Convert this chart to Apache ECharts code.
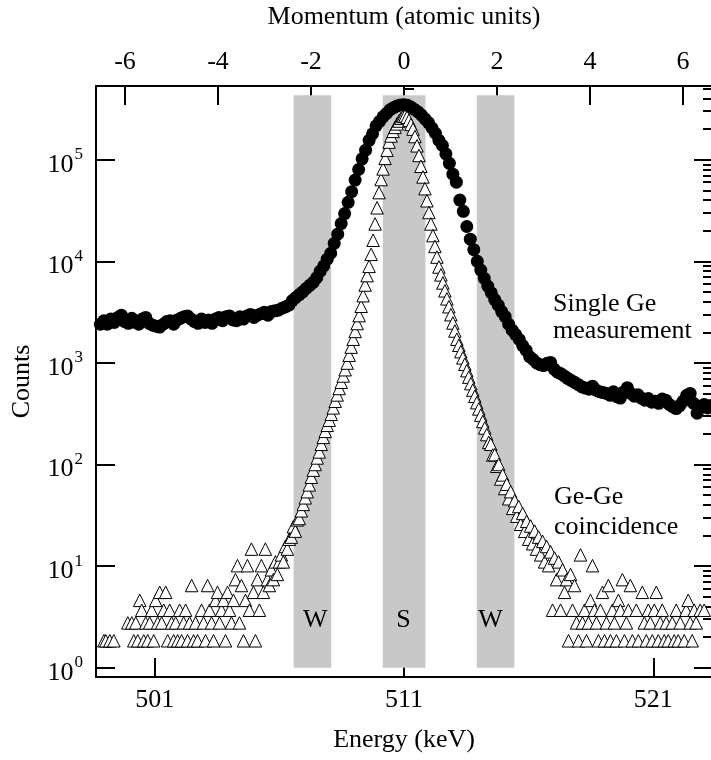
<!DOCTYPE html>
<html><head><meta charset="utf-8">
<script src="https://cdn.jsdelivr.net/npm/echarts@6/dist/echarts.min.js"></script>
<style>html,body{margin:0;padding:0;background:#fff}#c{width:711px;height:760px}</style>
</head><body><div id="c"></div>
<script>
// ---- tick labels / axes ----
const energyTicks = [501, 511, 521];
const momentumTicks = [-6, -4, -2, 0, 2, 4, 6];
const countDecades = [1, 10, 100, 1000, 10000, 100000];
const countMinor = [2,3,4,5,6,7,8,9, 20,30,40,50,60,70,80,90, 200,300,400,500,600,700,800,900,
  2000,3000,4000,5000,6000,7000,8000,9000, 20000,30000,40000,50000,60000,70000,80000,90000,
  200000,300000,400000,500000];
const energyRange = [498.645, 523.355];
const momentumRange = [-6.624, 6.624];
const countRange = [0.81, 5.31e5];

// ---- single Ge measurement (filled circles), channel grid start/step in keV ----
const singleStart = 498.82, singleStep = 0.14;
const singleCounts = [
 2400,2600,2400,2700,2500,2800,2950,2550,2450,2750,
 2500,2400,2700,2800,2450,2350,2300,2250,2400,2550,
 2600,2400,2650,2750,2850,2900,2700,2550,2450,2700,
 2500,2650,2450,2700,2800,2600,2850,2900,2650,2600,
 2850,2700,2900,3000,2800,2950,3050,3150,2950,3200,
 3250,3300,3450,3550,3700,4100,4400,4700,5000,5400,
 5800,6200,6900,8000,9000,10500,12000,15000,18500,23500,
 29500,38000,48400,63000,80000,102000,124000,155000,180000,215000,
 238000,264000,285000,310000,325000,338000,345000,348000,343000,330000,
 312000,295000,275000,252000,232000,205000,182000,155000,138000,114000,
 92000,72000,60000,40000,31000,22000,16500,13000,10000,8200,
 6800,5700,4900,4200,3700,3200,2850,2400,2100,1900,
 1700,1480,1330,1150,1080,1000,960,940,990,1010,
 870,810,780,740,700,670,640,610,580,565,
 550,590,540,520,510,500,480,520,465,450,
 520,570,500,470,485,450,430,445,410,420,
 400,440,430,390,370,355,380,420,480,500,
 400,320,370,390,360,380
];

// ---- Ge-Ge coincidence (open triangles), channel grid start/step in keV ----
const coincStart = 498.72, coincStep = 0.08;
const coincCounts = [
 null,null,null,1.84,1.84,null,1.84,null,1.84,null,
 null,null,null,null,null,2.76,null,2.76,1.84,2.76,
 1.84,4.6,3.68,1.84,2.76,1.84,2.76,3.68,1.84,4.6,
 2.76,5.52,2.76,3.68,5.52,1.84,3.68,2.76,1.84,2.76,
 1.84,3.68,1.84,2.76,3.68,1.84,2.76,6.44,1.84,2.76,
 1.84,null,3.68,2.76,1.84,6.44,3.68,2.76,1.84,4.6,
 5.52,2.76,3.68,4.6,1.84,5.52,3.68,2.76,4.6,7.36,
 10.1,2.76,6.44,1.84,4.6,10.1,3.68,14.7,5.52,1.84,
 7.36,3.68,10.1,5.52,14.7,7.36,6.44,9.2,7.36,11.0,
 8.28,11.0,12.9,11.0,15.6,14.7,18.4,19.3,24.4,22.1,
 28.5,29.4,35,40.5,47,54,63,75,88,100,
 116,133,158,185,212,243,273,312,361,419,
 484,560,645,743,857,996,1190,1430,1710,2040,
 2440,2920,3610,4590,5840,7230,8910,11700,16100,23300,
 33600,47400,63700,81100,103000,124000,149000,171000,190000,208000,
 225000,240000,255000,266000,270000,262000,245000,222000,200000,169000,
 137000,110000,86100,67600,51800,39400,30200,23300,17900,14000,
 11000,8790,7350,6120,5120,4270,3570,2980,2470,2060,
 1710,1490,1290,1120,970,838,724,625,540,469,
 406,352,306,265,229,197,165,158,124,125,
 96,100,72,79,58,64,46,54,37,44,
 31,38.6,25.8,33,22,27.6,18.4,24.8,16.6,22.1,
 14.7,19.3,12.9,17.5,11.0,15.6,10.1,13.8,3.68,12.0,
 7.36,11.0,3.68,9.2,5.52,7.36,1.84,8.28,3.68,6.44,
 2.76,1.84,12.9,2.76,3.68,1.84,2.76,4.6,10.1,3.68,
 2.76,1.84,3.68,5.52,1.84,2.76,6.44,1.84,3.68,2.76,
 1.84,4.6,3.68,7.36,1.84,2.76,3.68,6.44,1.84,null,
 3.68,1.84,null,5.52,2.76,1.84,3.68,2.76,1.84,3.68,
 5.52,1.84,2.76,3.68,1.84,2.76,1.84,null,2.76,1.84,
 3.68,1.84,2.76,null,1.84,3.68,4.6,2.76,1.84,3.68,
 2.76,null,3.68,null,3.68,null,null,null
];

// ---- S and W windows (keV) ----
const windows = [[506.57, 508.08], [510.15, 511.86], [513.92, 515.43]];
const windowCountSpan = [1, 4.3e5];
const windowLabels = [
  {text: 'W', e: 507.44, c: 2.95},
  {text: 'S', e: 510.98, c: 2.95},
  {text: 'W', e: 514.47, c: 2.95}
];
const seriesLabels = [
  {text: 'Single Ge\nmeasurement', e: 516.98, c: 2800, lh: 27},
  {text: 'Ge-Ge\ncoincidence', e: 517.02, c: 34, lh: 30}
];

const FONT = 'Liberation Serif';
const FS = 26;

const singleData = singleCounts.map((v, j) => [singleStart + j * singleStep, v]).filter(p => p[1] != null);
const coincData = coincCounts.map((v, i) => [coincStart + i * coincStep, v]).filter(p => p[1] != null);

const axisLineStyle = {color: '#000', width: 2};
function logAxis(pos, ticks, len, withLabel, extra) {
  return Object.assign({
    type: 'log', position: pos, min: countRange[0], max: countRange[1], logBase: 10,
    axisLine: {show: false},
    axisTick: {show: true, inside: true, length: len, customValues: ticks, lineStyle: axisLineStyle},
    axisLabel: withLabel ? {
      show: true, customValues: ticks, margin: 13, color: '#000',
      formatter: v => '{b|10}{s|' + Math.round(Math.log10(v)) + '}',
      rich: {
        b: {fontSize: FS, fontFamily: FONT, color: '#000', lineHeight: 26, padding: [10, 0, 0, 0]},
        s: {fontSize: 17, fontFamily: FONT, color: '#000', lineHeight: 16, padding: [0, 0, 10, 1]}
      }
    } : {show: false},
    splitLine: {show: false}, minorTick: {show: false}
  }, extra || {});
}

const chart = echarts.init(document.getElementById('c'), null, {renderer: 'canvas'});
const option = {
  animation: false,
  backgroundColor: '#fff',
  grid: {left: 96, top: 86, width: 616, height: 591, outerBoundsMode: 'none', containLabel: false},
  xAxis: [
    {
      type: 'value', position: 'bottom', min: energyRange[0], max: energyRange[1],
      axisLine: {show: true, onZero: false, lineStyle: axisLineStyle},
      axisTick: {show: true, inside: true, length: 19, customValues: energyTicks, lineStyle: axisLineStyle},
      axisLabel: {customValues: energyTicks, color: '#000', fontSize: FS, fontFamily: FONT, margin: 10},
      splitLine: {show: false},
      name: 'Energy (keV)', nameLocation: 'middle', nameGap: 50,
      nameTextStyle: {color: '#000', fontSize: FS, fontFamily: FONT}
    },
    {
      type: 'value', position: 'top', min: momentumRange[0], max: momentumRange[1],
      axisLine: {show: true, onZero: false, lineStyle: axisLineStyle},
      axisTick: {show: true, inside: true, length: 19, customValues: momentumTicks, lineStyle: axisLineStyle},
      axisLabel: {customValues: momentumTicks, color: '#000', fontSize: FS, fontFamily: FONT, margin: 11},
      splitLine: {show: false},
      name: 'Momentum (atomic units)', nameLocation: 'middle', nameGap: 56,
      nameTextStyle: {color: '#000', fontSize: FS, fontFamily: FONT}
    }
  ],
  yAxis: [
    logAxis('left', countDecades, 19, true, {
      axisLine: {show: true, onZero: false, lineStyle: axisLineStyle},
      name: 'Counts', nameLocation: 'middle', nameGap: 61, nameRotate: 90,
      nameTextStyle: {color: '#000', fontSize: FS, fontFamily: FONT}
    }),
    logAxis('left', countMinor, 10, false),
    logAxis('right', countDecades, 18, false),
    logAxis('right', countMinor, 9, false)
  ],
  series: [
    {
      name: 'Single Ge measurement', type: 'scatter', xAxisIndex: 0, yAxisIndex: 0,
      symbol: 'circle', symbolSize: 13, z: 2,
      itemStyle: {color: '#000', opacity: 1},
      data: singleData,
      markArea: {
        silent: true, z: 1,
        itemStyle: {color: '#c8c8c8'},
        data: windows.map(w => [{xAxis: w[0], yAxis: windowCountSpan[0]}, {xAxis: w[1], yAxis: windowCountSpan[1]}])
      }
    },
    {
      name: 'Ge-Ge coincidence', type: 'scatter', xAxisIndex: 0, yAxisIndex: 0,
      symbol: 'triangle', symbolSize: 12.5, z: 3,
      itemStyle: {color: '#fff', borderColor: '#000', borderWidth: 1, opacity: 1},
      data: coincData
    }
  ]
};
chart.setOption(option);

function txt(a, align) {
  const p = chart.convertToPixel({xAxisIndex: 0, yAxisIndex: 0}, [a.e, a.c]);
  return {
    type: 'text', x: p[0], y: p[1], z: 10, silent: true,
    style: {text: a.text, fontSize: FS, fontFamily: FONT, fill: '#000',
            align: align, verticalAlign: 'middle', lineHeight: a.lh || FS}
  };
}
chart.setOption({
  graphic: windowLabels.map(a => txt(a, 'center')).concat(seriesLabels.map(a => txt(a, 'left')))
});
</script></body></html>
